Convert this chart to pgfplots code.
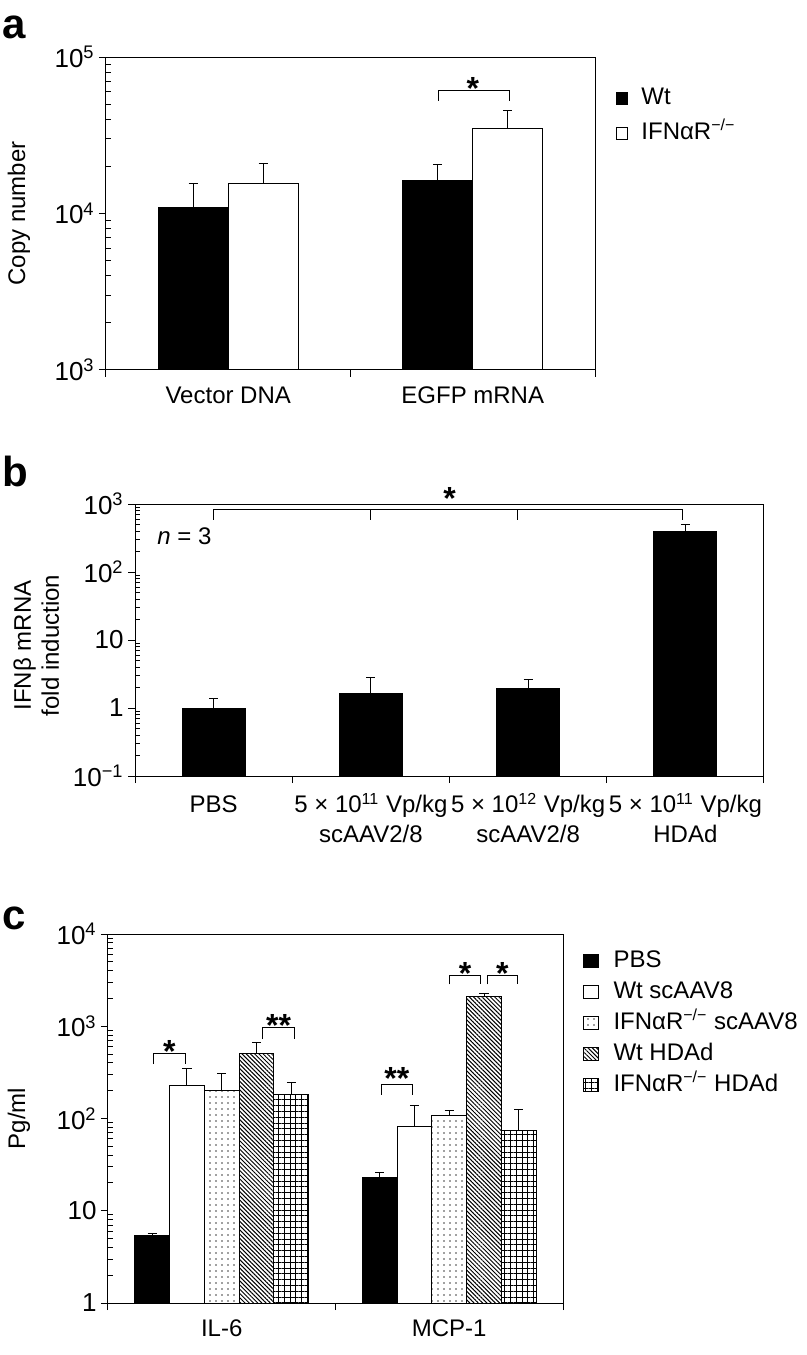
\documentclass[border=0pt]{standalone}
\usepackage{fontspec}
\setmainfont{Liberation Sans}
\usepackage{pgfplots}
\pgfplotsset{compat=1.18}
\usetikzlibrary{patterns,patterns.meta}

\pgfplotsset{
  every axis/.append style={
    scale only axis,
    log origin=infty,
    clip=false,
    axis line style={line width=0.5pt},
    tick style={line width=0.5pt, black},
    tick align=outside,
    major tick length=3.5pt,
    minor tick length=2.5pt,
    minor tick style={xshift=2.5pt},
    xtick pos=left,
    ytick pos=left,
    yticklabel style={font=\fontsize{13}{13}\selectfont, inner xsep=2pt},
    xticklabel style={font=\fontsize{12}{15}\selectfont, align=center, yshift=-5pt},
    extra x tick style={major tick length=0pt},
    legend style={draw=none, fill=none, inner sep=0pt, anchor=north west,
      font=\fontsize{12}{14}\selectfont, cells={anchor=west},
      nodes={inner sep=0pt, text height=8.6pt, text depth=2.4pt}},
  },
  every axis label/.append style={font=\fontsize{12}{14}\selectfont},
  boxlegA/.style={legend image code/.code={\draw[##1, line width=0.5pt] (0pt,-3pt) rectangle (5.5pt,3pt);}},
  boxlegC/.style={legend image code/.code={\draw[##1, line width=0.5pt] (0pt,-3.25pt) rectangle (7.5pt,3.25pt);}},
}
\tikzset{
  bk/.style={line width=0.5pt},
  sigstar/.style={font=\fontsize{16}{16}\selectfont\bfseries, anchor=base, inner sep=0pt, yshift=-4.5pt},
  errb/.style={
    /pgfplots/error bars/y dir=plus,
    /pgfplots/error bars/y explicit,
    /pgfplots/error bars/error mark=|,
    /pgfplots/error bars/error bar style={line width=0.5pt, black},
    /pgfplots/error bars/error mark options={line width=0.5pt, black, mark size=2.3pt}},
}

\begin{document}
\begin{tikzpicture}
\path[use as bounding box] (0,0) rectangle (403.5pt,-677.5pt);

\node[anchor=base west, inner sep=0pt, font=\fontsize{21}{21}\selectfont\bfseries] at (1pt,-19pt) {a};
\node[anchor=base west, inner sep=0pt, font=\fontsize{21}{21}\selectfont\bfseries] at (1pt,-243pt) {b};
\node[anchor=base west, inner sep=0pt, font=\fontsize{21}{21}\selectfont\bfseries] at (1pt,-464.5pt) {c};

% ---------- panel a ----------
\begin{semilogyaxis}[at={(53pt,-185pt)}, anchor=south west,
  width=244.5pt, height=156.5pt,
  xmin=-0.5, xmax=1.5, ymin=1e3, ymax=1e5,
  ybar=0pt, bar width=0.286,
  xtick={-0.5,0.5,1.5}, xticklabels={},
  extra x ticks={0,1}, extra x tick labels={Vector DNA, EGFP mRNA},
  ytick={1e3,1e4,1e5},
  yticklabels={10\textsuperscript{3},10\textsuperscript{4},10\textsuperscript{5}},
  minor ytick={2e3,3e3,4e3,5e3,6e3,7e3,8e3,9e3,2e4,3e4,4e4,5e4,6e4,7e4,8e4,9e4},
  ylabel={Copy number},
  ylabel style={at={(axis description cs:-0.178,0.5)}, anchor=center},
  legend style={at={(axis description cs:1.043,0.905)}, column sep=6.5pt, row sep=6.5pt},
  boxlegA,
]
\addplot[fill=black, draw=black, bk, errb] coordinates {(0,10900) +- (0,4700) (1,16250) +- (0,4450)};
\addlegendentry{Wt}
\addplot[fill=white, draw=black, bk, errb] coordinates {(0,15600) +- (0,5400) (1,34700) +- (0,10500)};
\addlegendentry{IFNαR\textsuperscript{−/−}}
\draw[bk] (axis cs:0.86,52500) -- (axis cs:0.86,61500) -- (axis cs:1.15,61500) -- (axis cs:1.15,52500);
\node[sigstar] at (axis cs:1.0,61500) {*};
\end{semilogyaxis}

% ---------- panel b ----------
\begin{semilogyaxis}[at={(67.5pt,-388pt)}, anchor=south west,
  width=314.5pt, height=136pt,
  xmin=-0.5, xmax=3.5, ymin=0.1, ymax=1000,
  ybar=0pt, bar width=0.40,
  xtick={-0.5,0.5,1.5,2.5,3.5}, xticklabels={},
  extra x ticks={0,1,2,3},
  extra x tick labels={\vphantom{5 × 10\textsuperscript{11}}PBS,
    5 × 10\textsuperscript{11} Vp/kg\\scAAV2/8,
    5 × 10\textsuperscript{12} Vp/kg\\scAAV2/8,
    5 × 10\textsuperscript{11} Vp/kg\\HDAd},
  ytick={0.1,1,10,100,1000},
  yticklabels={10\textsuperscript{−1},1,10,10\textsuperscript{2},10\textsuperscript{3}},
  minor ytick={0.2,0.3,0.4,0.5,0.6,0.7,0.8,0.9,2,3,4,5,6,7,8,9,20,30,40,50,60,70,80,90,200,300,400,500,600,700,800,900},
  ylabel={IFNβ mRNA\\fold induction},
  ylabel style={at={(axis description cs:-0.157,0.48)}, anchor=center, align=center,
    font=\fontsize{12}{14}\selectfont},
]
\addplot[fill=black, draw=black, bk, errb] coordinates {(0,1.0) +- (0,0.37) (1,1.62) +- (0,1.23) (2,1.96) +- (0,0.67) (3,393) +- (0,115)};
\draw[bk] (axis cs:0,586) -- (axis cs:0,817) -- (axis cs:2.98,817) -- (axis cs:2.98,586);
\draw[bk] (axis cs:1,817) -- (axis cs:1,586);
\draw[bk] (axis cs:1.93,817) -- (axis cs:1.93,586);
\node[sigstar, yshift=4.5pt] at (axis cs:1.5,817) {*};
\node[anchor=west, inner sep=0pt, font=\fontsize{12}{12}\selectfont] at (axis cs:-0.36,340) {\textit{n} = 3};
\end{semilogyaxis}

% ---------- panel c ----------
\begin{semilogyaxis}[at={(54pt,-651.5pt)}, anchor=south west,
  width=227.5pt, height=184.5pt,
  xmin=-0.5, xmax=1.5, ymin=1, ymax=1e4,
  ybar=0pt, bar width=0.153,
  xtick={-0.5,0.5,1.5}, xticklabels={},
  extra x ticks={0,1}, extra x tick labels={IL-6, MCP-1},
  ytick={1,10,100,1000,10000},
  yticklabels={1,10,10\textsuperscript{2},10\textsuperscript{3},10\textsuperscript{4}},
  minor ytick={2,3,4,5,6,7,8,9,20,30,40,50,60,70,80,90,200,300,400,500,600,700,800,900,2000,3000,4000,5000,6000,7000,8000,9000},
  ylabel={Pg/ml},
  ylabel style={at={(axis description cs:-0.196,0.5)}, anchor=center},
  legend style={at={(axis description cs:1.042,0.957)}, column sep=7.5pt, row sep=4.5pt},
  boxlegC,
]
\addplot[fill=black, draw=black, bk, errb] coordinates {(0,5.33) +- (0,0.32) (1,23.1) +- (0,3.2)};
\addlegendentry{PBS}
\addplot[fill=white, draw=black, bk, errb] coordinates {(0,230) +- (0,122) (1,82) +- (0,58)};
\addlegendentry{Wt scAAV8}
\addplot[pattern={Dots[distance=3pt, radius=0.4pt]}, pattern color=black!75, draw=black, bk, errb] coordinates {(0,199) +- (0,112) (1,108) +- (0,14)};
\addlegendentry{IFNαR\textsuperscript{−/−} scAAV8}
\addplot[pattern={Lines[angle=-45, distance=1.5pt, line width=0.5pt]}, pattern color=black, draw=black, bk, errb] coordinates {(0,510) +- (0,160) (1,2125) +- (0,125)};
\addlegendentry{Wt HDAd}
\addplot[pattern={Hatch[angle=0, distance=2.9pt, line width=0.45pt]}, pattern color=black, draw=black, bk, errb] coordinates {(0,180) +- (0,68) (1,74.2) +- (0,50)};
\addlegendentry{IFNαR\textsuperscript{−/−} HDAd}
% significance brackets
\draw[bk] (axis cs:-0.30,388) -- (axis cs:-0.30,510) -- (axis cs:-0.16,510) -- (axis cs:-0.16,388);
\node[sigstar] at (axis cs:-0.23,510) {*};
\draw[bk] (axis cs:0.18,724) -- (axis cs:0.18,959) -- (axis cs:0.32,959) -- (axis cs:0.32,724);
\node[sigstar] at (axis cs:0.25,959) {**};
\draw[bk] (axis cs:0.70,180) -- (axis cs:0.70,231) -- (axis cs:0.84,231) -- (axis cs:0.84,180);
\node[sigstar, yshift=2pt] at (axis cs:0.77,231) {**};
\draw[bk] (axis cs:1.0,2840) -- (axis cs:1.0,3550) -- (axis cs:1.137,3550) -- (axis cs:1.137,2840);
\node[sigstar] at (axis cs:1.07,3550) {*};
\draw[bk] (axis cs:1.167,2840) -- (axis cs:1.167,3550) -- (axis cs:1.30,3550) -- (axis cs:1.30,2840);
\node[sigstar] at (axis cs:1.233,3550) {*};
\end{semilogyaxis}
\end{tikzpicture}
\end{document}
